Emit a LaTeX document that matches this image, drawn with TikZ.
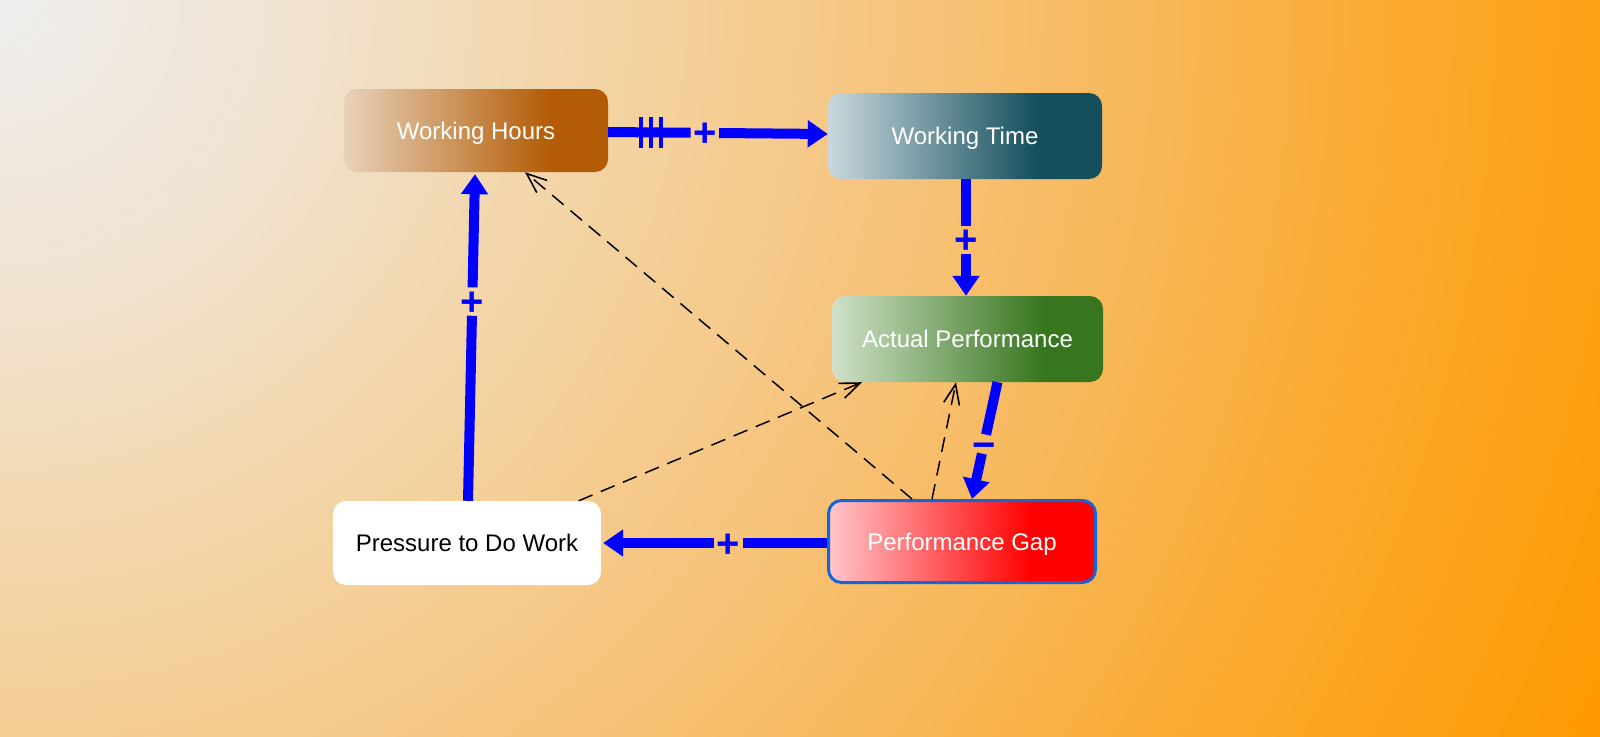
\documentclass[tikz,border=0pt]{standalone}
\usepackage{fontspec}
\setmainfont{Liberation Sans}
\usetikzlibrary{arrows.meta}
\definecolor{polblue}{HTML}{0000FF}
\definecolor{bgA}{HTML}{EEEEEE}
\definecolor{bgB}{HTML}{F1E3D0}
\definecolor{bgC}{HTML}{F2D9B3}
\definecolor{bgD}{HTML}{F4CF98}
\definecolor{bgE}{HTML}{F6C47D}
\definecolor{bgF}{HTML}{F8B758}
\definecolor{bgG}{HTML}{FBAA30}
\definecolor{bgH}{HTML}{FF9900}
\definecolor{whA}{HTML}{E9D2BB}
\definecolor{whE}{HTML}{B35C05}
\definecolor{wtA}{HTML}{CAD8DE}
\definecolor{wtE}{HTML}{154F5D}
\definecolor{apA}{HTML}{D0E1C8}
\definecolor{apE}{HTML}{37761E}
\definecolor{pgA}{HTML}{FFC6CA}
\definecolor{pgE}{HTML}{FF0000}
\definecolor{pgborder}{HTML}{1565D8}
\pgfdeclareradialshading{bgsh}{\pgfpoint{0bp}{0bp}}{color(0bp)=(bgA); color(4.2bp)=(bgB); color(6.9bp)=(bgC); color(9.7bp)=(bgD); color(12.5bp)=(bgE); color(16bp)=(bgF); color(19.4bp)=(bgG); color(24.5bp)=(bgH); color(50bp)=(bgH)}
\pgfdeclarehorizontalshading{whsh}{100bp}{color(0bp)=(whA); color(25bp)=(whA); color(64bp)=(whE); color(100bp)=(whE)}
\pgfdeclarehorizontalshading{wtsh}{100bp}{color(0bp)=(wtA); color(25bp)=(wtA); color(63bp)=(wtE); color(100bp)=(wtE)}
\pgfdeclarehorizontalshading{apsh}{100bp}{color(0bp)=(apA); color(25bp)=(apA); color(64bp)=(apE); color(100bp)=(apE)}
\pgfdeclarehorizontalshading{pgsh}{100bp}{color(0bp)=(pgA); color(25bp)=(pgA); color(63bp)=(pgE); color(100bp)=(pgE)}
\newcommand{\polsign}[1]{\smash{\raisebox{-14pt}{\makebox[0pt]{#1}}}}
\begin{document}
\begin{tikzpicture}[x=1pt,y=-1pt,
  box/.style={rounded corners=13pt, inner sep=0pt, text height=17pt, text depth=0pt, font=\fontsize{24pt}{28pt}\selectfont, text=white},
  pol/.style={circle, inner sep=0pt, minimum size=28pt, text=polblue, font=\fontsize{40pt}{40pt}\selectfont\bfseries},
  causal/.style={line width=10pt, draw=polblue},
  causalarrow/.style={causal, -{Triangle[length=20pt,width=26pt]}},
  info/.style={draw=black, line width=1.5pt, dash pattern=on 15pt off 9pt, -{Straight Barb[length=20pt,width=16pt,line width=1.6pt]}}
]
\useasboundingbox (0,0) rectangle (1600,736);
\begin{scope}
  \clip (0,0) rectangle (1600,736);
  \shade[shading=bgsh] (-1800,-1800) rectangle (1800,1800);
\end{scope}

\node[box, shade, shading=whsh, minimum width=264pt, minimum height=83pt] (wh) at (476,130.5) {Working Hours};
\node[box, shade, shading=wtsh, minimum width=274pt, minimum height=86pt] (wt) at (965,136) {Working Time};
\node[box, shade, shading=apsh, minimum width=271pt, minimum height=86pt] (ap) at (967.5,339) {Actual Performance};
\node[box, shade, shading=pgsh, draw=pgborder, line width=3pt, minimum width=267pt, minimum height=82pt] (pg) at (962,541.5) {Performance Gap};
\node[box, fill=white, text=black, minimum width=268pt, minimum height=84pt] (pt) at (467,543) {Pressure to Do Work};

% Working Hours -> Working Time (with delay)
\path ([yshift=-1.5pt]wh.east) -- ([yshift=2pt]wt.west)
  node[pol, pos=0.44] (p1) {\polsign{+}}
  coordinate[pos=0.15] (d1) coordinate[pos=0.195] (d2) coordinate[pos=0.24] (d3);
\draw[causal] ([yshift=-1.5pt]wh.east) -- (p1);
\draw[causalarrow] (p1) -- ([yshift=2pt]wt.west);
\foreach \d in {d1,d2,d3}
  \draw[polblue, line width=4pt] ([yshift=15.5pt]\d) -- ([yshift=-15.5pt]\d);

% Working Time -> Actual Performance
\path ([xshift=1pt]wt.south) -- ([xshift=-1.5pt]ap.north) node[pol, pos=0.52] (p2) {\polsign{+}};
\draw[causal] ([xshift=1pt]wt.south) -- (p2);
\draw[causalarrow] (p2) -- ([xshift=-1.5pt]ap.north);

% Actual Performance -> Performance Gap
\path ([xshift=30pt]ap.south) -- ([xshift=10pt]pg.north) node[pol, pos=0.53, minimum size=19pt] (m3) {\polsign{−}};
\draw[causal] ([xshift=30pt]ap.south) -- (m3);
\draw[causalarrow] (m3) -- ([xshift=10pt]pg.north);

% Performance Gap -> Pressure
\path ([yshift=-1.5pt]pg.west) -- ([xshift=2pt]pt.east) node[pol, pos=0.44] (p4) {\polsign{+}};
\draw[causal] ([yshift=-1.5pt]pg.west) -- (p4);
\draw[causalarrow] (p4) -- ([xshift=2pt]pt.east);

% Pressure -> Working Hours
\path ([xshift=1pt]pt.north) -- ([xshift=-1pt,yshift=-2pt]wh.south) node[pol, pos=0.61] (p5) {\polsign{+}};
\draw[causal] ([xshift=1pt]pt.north) -- (p5);
\draw[causalarrow] (p5) -- ([xshift=-1pt,yshift=-2pt]wh.south);

% information links
\draw[info] ([xshift=-50pt]pg.north) -- ([xshift=49pt]wh.south);
\draw[info] ([xshift=-30pt]pg.north) -- ([xshift=-11.5pt]ap.south);
\draw[info] ([xshift=111.6pt]pt.north) -- ([xshift=-105.5pt]ap.south);
\end{tikzpicture}
\end{document}
